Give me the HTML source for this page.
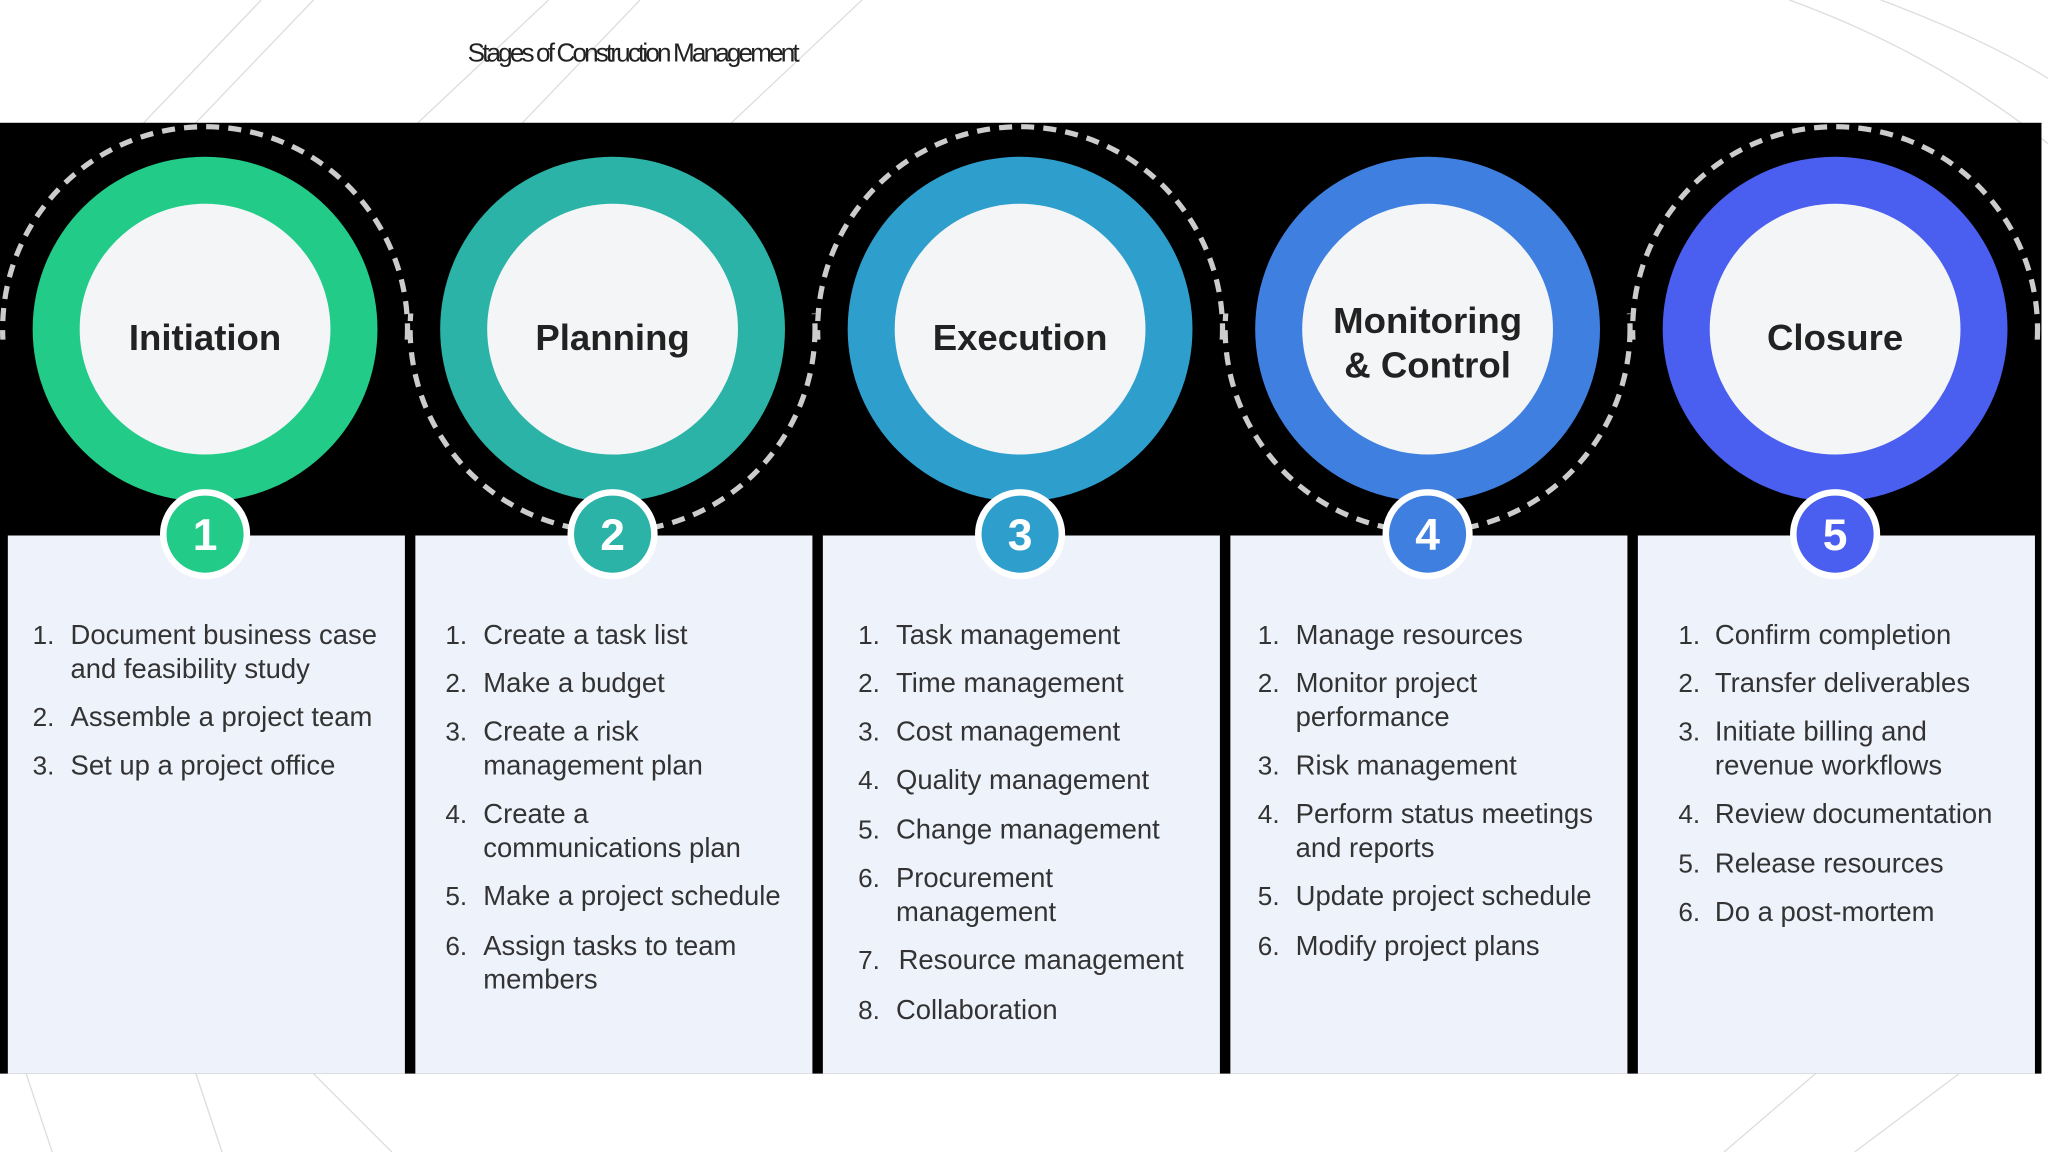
<!DOCTYPE html>
<html><head><meta charset="utf-8"><style>
html,body{margin:0;padding:0;background:#fff;overflow:hidden;width:2048px;height:1152px}
#w{position:absolute;left:0;top:0;width:1568px;height:882px;transform:scale(1.30612);transform-origin:0 0;font-family:"Liberation Sans",sans-serif}
.t{position:absolute;font-size:21px;line-height:24px;color:#333;white-space:nowrap}
.n{position:absolute;font-size:20px;line-height:24px;color:#333}
.ttl{position:absolute;font-weight:bold;font-size:28px;color:#222;text-align:center;width:200px;line-height:34px}
</style></head><body><div id="w">
<svg width="1568" height="882" style="position:absolute;left:0;top:0">
<g stroke="#ddd" stroke-width="1" fill="none">
<line x1="110" y1="94" x2="200" y2="0"/><line x1="150" y1="94" x2="240" y2="0"/><line x1="320" y1="94" x2="420" y2="0"/>
<line x1="400" y1="94" x2="490" y2="0"/><line x1="560" y1="94" x2="660" y2="0"/>
<path d="M1370 0 Q1480 40 1568 110"/><path d="M1440 0 Q1520 30 1568 60"/>
<line x1="20" y1="822" x2="40" y2="882"/><line x1="150" y1="822" x2="170" y2="882"/><line x1="240" y1="822" x2="300" y2="882"/>
<line x1="1320" y1="882" x2="1390" y2="822"/><line x1="1420" y1="882" x2="1500" y2="822"/>
</g>
<rect x="0" y="94" width="1563" height="728" fill="#000"/>
<g fill="#eef2fb">
<rect x="6" y="410" width="304" height="412"/><rect x="318" y="410" width="304" height="412"/>
<rect x="630" y="410" width="304" height="412"/><rect x="942" y="410" width="304" height="412"/>
<rect x="1254" y="410" width="304" height="412"/>
</g>
<defs>
<clipPath id="up"><rect x="0" y="80" width="1568" height="180"/></clipPath>
<clipPath id="dn"><rect x="0" y="240" width="1568" height="180"/></clipPath>
</defs>
<g fill="none" stroke="#ccc" stroke-width="4" stroke-dasharray="10 7">
<circle cx="157" cy="252" r="155" clip-path="url(#up)"/>
<circle cx="469" cy="252" r="155" clip-path="url(#dn)"/>
<circle cx="781" cy="252" r="155" clip-path="url(#up)"/>
<circle cx="1093" cy="252" r="155" clip-path="url(#dn)"/>
<circle cx="1405" cy="252" r="155" clip-path="url(#up)"/>
</g>
<g>
<circle cx="157" cy="252" r="132" fill="#22cc88"/><circle cx="469" cy="252" r="132" fill="#2ab3a6"/>
<circle cx="781" cy="252" r="132" fill="#2e9fcc"/><circle cx="1093" cy="252" r="132" fill="#3f7fe0"/>
<circle cx="1405" cy="252" r="132" fill="#4a5ef0"/>
</g>
<g fill="#f4f5f7">
<circle cx="157" cy="252" r="96"/><circle cx="469" cy="252" r="96"/><circle cx="781" cy="252" r="96"/>
<circle cx="1093" cy="252" r="96"/><circle cx="1405" cy="252" r="96"/>
</g>
<g stroke="#fff" stroke-width="5">
<circle cx="157" cy="409" r="32" fill="#22cc88"/><circle cx="469" cy="409" r="32" fill="#2ab3a6"/>
<circle cx="781" cy="409" r="32" fill="#2e9fcc"/><circle cx="1093" cy="409" r="32" fill="#3f7fe0"/>
<circle cx="1405" cy="409" r="32" fill="#4a5ef0"/>
</g>
<g fill="#fff" font-family="Liberation Sans,sans-serif" font-weight="bold" font-size="34" text-anchor="middle">
<text x="157" y="421">1</text><text x="469" y="421">2</text><text x="781" y="421">3</text><text x="1093" y="421">4</text><text x="1405" y="421">5</text>
</g>
</svg>
<div style="position:absolute;left:358px;top:30px;font-size:20px;letter-spacing:-2.2px;color:#222;font-family:'Liberation Sans Narrow','Liberation Sans',sans-serif">Stages of Construction Management</div>
<div class="ttl" style="left:57px;top:242px">Initiation</div>
<div class="ttl" style="left:369px;top:242px">Planning</div>
<div class="ttl" style="left:681px;top:242px">Execution</div>
<div class="ttl" style="left:993px;top:229px">Monitoring<br>&amp; Control</div>
<div class="ttl" style="left:1305px;top:242px">Closure</div>

<div class="n" style="left:25px;top:475px">1.</div><div class="t" style="left:54px;top:475px">Document business case</div><div class="t" style="left:54px;top:501px">and feasibility study</div>
<div class="n" style="left:25px;top:538px">2.</div><div class="t" style="left:54px;top:538px">Assemble a project team</div>
<div class="n" style="left:25px;top:575px">3.</div><div class="t" style="left:54px;top:575px">Set up a project office</div>

<div class="n" style="left:341px;top:475px">1.</div><div class="t" style="left:370px;top:475px">Create a task list</div>
<div class="n" style="left:341px;top:512px">2.</div><div class="t" style="left:370px;top:512px">Make a budget</div>
<div class="n" style="left:341px;top:549px">3.</div><div class="t" style="left:370px;top:549px">Create a risk</div><div class="t" style="left:370px;top:575px">management plan</div>
<div class="n" style="left:341px;top:612px">4.</div><div class="t" style="left:370px;top:612px">Create a</div><div class="t" style="left:370px;top:638px">communications plan</div>
<div class="n" style="left:341px;top:675px">5.</div><div class="t" style="left:370px;top:675px">Make a project schedule</div>
<div class="n" style="left:341px;top:713px">6.</div><div class="t" style="left:370px;top:713px">Assign tasks to team</div><div class="t" style="left:370px;top:739px">members</div>

<div class="n" style="left:657px;top:475px">1.</div><div class="t" style="left:686px;top:475px">Task management</div>
<div class="n" style="left:657px;top:512px">2.</div><div class="t" style="left:686px;top:512px">Time management</div>
<div class="n" style="left:657px;top:549px">3.</div><div class="t" style="left:686px;top:549px">Cost management</div>
<div class="n" style="left:657px;top:586px">4.</div><div class="t" style="left:686px;top:586px">Quality management</div>
<div class="n" style="left:657px;top:624px">5.</div><div class="t" style="left:686px;top:624px">Change management</div>
<div class="n" style="left:657px;top:661px">6.</div><div class="t" style="left:686px;top:661px">Procurement</div><div class="t" style="left:686px;top:687px">management</div>
<div class="n" style="left:657px;top:724px">7.</div><div class="t" style="left:688px;top:724px">Resource management</div>
<div class="n" style="left:657px;top:762px">8.</div><div class="t" style="left:686px;top:762px">Collaboration</div>

<div class="n" style="left:963px;top:475px">1.</div><div class="t" style="left:992px;top:475px">Manage resources</div>
<div class="n" style="left:963px;top:512px">2.</div><div class="t" style="left:992px;top:512px">Monitor project</div><div class="t" style="left:992px;top:538px">performance</div>
<div class="n" style="left:963px;top:575px">3.</div><div class="t" style="left:992px;top:575px">Risk management</div>
<div class="n" style="left:963px;top:612px">4.</div><div class="t" style="left:992px;top:612px">Perform status meetings</div><div class="t" style="left:992px;top:638px">and reports</div>
<div class="n" style="left:963px;top:675px">5.</div><div class="t" style="left:992px;top:675px">Update project schedule</div>
<div class="n" style="left:963px;top:713px">6.</div><div class="t" style="left:992px;top:713px">Modify project plans</div>

<div class="n" style="left:1285px;top:475px">1.</div><div class="t" style="left:1313px;top:475px">Confirm completion</div>
<div class="n" style="left:1285px;top:512px">2.</div><div class="t" style="left:1313px;top:512px">Transfer deliverables</div>
<div class="n" style="left:1285px;top:549px">3.</div><div class="t" style="left:1313px;top:549px">Initiate billing and</div><div class="t" style="left:1313px;top:575px">revenue workflows</div>
<div class="n" style="left:1285px;top:612px">4.</div><div class="t" style="left:1313px;top:612px">Review documentation</div>
<div class="n" style="left:1285px;top:650px">5.</div><div class="t" style="left:1313px;top:650px">Release resources</div>
<div class="n" style="left:1285px;top:687px">6.</div><div class="t" style="left:1313px;top:687px">Do a post-mortem</div>
</div></body></html>
